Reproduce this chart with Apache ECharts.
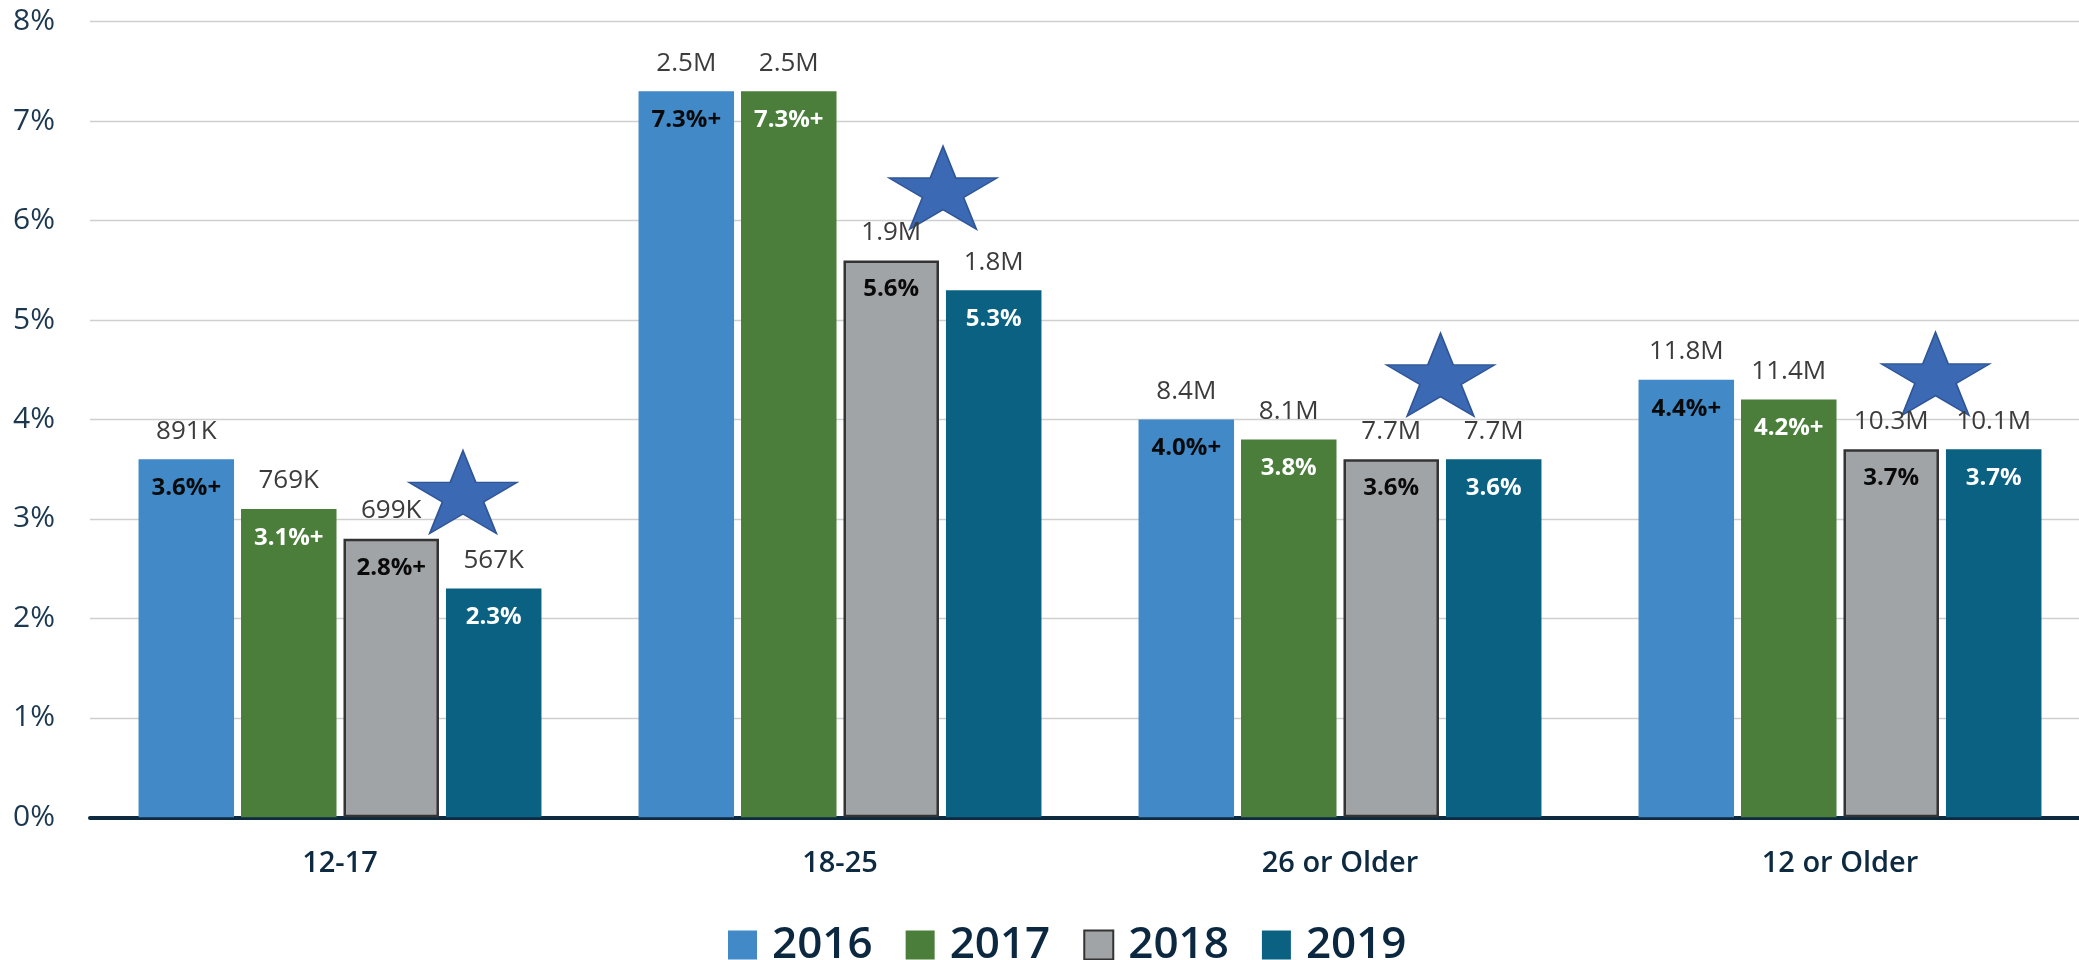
<!DOCTYPE html>
<html>
<head>
<meta charset="utf-8">
<title>Prevalence by age group</title>
<script src="https://cdn.jsdelivr.net/npm/echarts@6/dist/echarts.min.js"></script>
<style>
  html, body { margin: 0; padding: 0; background: #fff; }
  #chart { width: 2079px; height: 960px; }
</style>
</head>
<body>
<div id="chart"></div>
<script>
// categories / years
var categories = ['12-17', '18-25', '26 or Older', '12 or Older'];
var years = ['2016', '2017', '2018', '2019'];

// percent values per year
var pct2016 = [3.6, 7.3, 4.0, 4.4];
var pct2017 = [3.1, 7.3, 3.8, 4.2];
var pct2018 = [2.8, 5.6, 3.6, 3.7];
var pct2019 = [2.3, 5.3, 3.6, 3.7];

// label text inside bars
var pctText2016 = ['3.6%+', '7.3%+', '4.0%+', '4.4%+'];
var pctText2017 = ['3.1%+', '7.3%+', '3.8%', '4.2%+'];
var pctText2018 = ['2.8%+', '5.6%', '3.6%', '3.7%'];
var pctText2019 = ['2.3%', '5.3%', '3.6%', '3.7%'];

// counts shown above bars
var count2016 = ['891K', '2.5M', '8.4M', '11.8M'];
var count2017 = ['769K', '2.5M', '8.1M', '11.4M'];
var count2018 = ['699K', '1.9M', '7.7M', '10.3M'];
var count2019 = ['567K', '1.8M', '7.7M', '10.1M'];

// star markers (x in category units, y in percent)
var starX = [0.746, 1.706, 2.701, 3.691];
var starY = [3.27, 6.33, 4.45, 4.46];

// y axis ticks
var yMin = 0, yMax = 8, yStep = 1;

var colors = ['#4189c7', '#4a7e3a', '#a1a4a7', '#0a6182'];
var insideColors = ['#0a0a0a', '#ffffff', '#0a0a0a', '#ffffff'];
var pctSets = [pct2016, pct2017, pct2018, pct2019];
var pctTextSets = [pctText2016, pctText2017, pctText2018, pctText2019];
var countSets = [count2016, count2017, count2018, count2019];

var FONT = '"Open Sans", "Noto Sans", sans-serif';
var STAR = 'path://M50,0 L61.23,34.55 L97.55,34.55 L68.17,55.9 L79.39,90.45 L50,69.1 L20.61,90.45 L31.83,55.9 L2.45,34.55 L38.77,34.55 Z';

var chart = echarts.init(document.getElementById('chart'));

var series = [];

// main bars with the percent label inside
years.forEach(function (year, i) {
  var itemStyle = { color: colors[i] };
  if (year === '2018') {
    itemStyle.borderColor = '#333333';
    itemStyle.borderWidth = 2.5;
  }
  series.push({
    name: year,
    type: 'bar',
    xAxisIndex: 0,
    yAxisIndex: 0,
    barWidth: 95.5,
    barGap: '7.3%',
    itemStyle: itemStyle,
    label: {
      show: true,
      position: 'insideTop',
      distance: 17,
      fontFamily: FONT,
      fontSize: 24,
      fontWeight: 'bold',
      color: insideColors[i],
      formatter: function (p) { return pctTextSets[i][p.dataIndex]; }
    },
    emphasis: { disabled: true },
    data: pctSets[i]
  });
});

// transparent copies on a twin axis, carrying the count labels above
years.forEach(function (year, i) {
  series.push({
    name: 'count' + year,
    type: 'bar',
    xAxisIndex: 2,
    yAxisIndex: 0,
    barWidth: 95.5,
    barGap: '7.3%',
    silent: true,
    itemStyle: { color: 'rgba(0,0,0,0)' },
    label: {
      show: true,
      position: 'top',
      distance: 15,
      fontFamily: FONT,
      fontSize: 26,
      color: '#3c3c3c',
      formatter: function (p) { return countSets[i][p.dataIndex]; }
    },
    data: pctSets[i]
  });
});

// stars
series.push({
  name: 'star',
  type: 'scatter',
  xAxisIndex: 1,
  yAxisIndex: 0,
  symbol: STAR,
  symbolSize: [108, 83],
  z: 1,
  silent: true,
  itemStyle: { color: '#3b69b3', borderColor: '#2f5597', borderWidth: 1.5, opacity: 1 },
  data: starX.map(function (x, k) { return [x, starY[k]]; })
});

var option = {
  animation: false,
  backgroundColor: '#ffffff',
  grid: {
    left: 90,
    top: 21.7,
    width: 2000,
    height: 795.6,
    containLabel: false,
    outerBoundsMode: 'none'
  },
  legend: {
    data: years,
    left: 723,
    top: 917,
    icon: 'rect',
    itemWidth: 29,
    itemHeight: 29,
    itemGap: 33,
    selectedMode: false,
    textStyle: {
      fontFamily: FONT,
      fontSize: 44,
      fontWeight: 600,
      lineHeight: 46,
      color: '#0b2840',
      padding: [0, 0, 0, 10]
    }
  },
  xAxis: [
    {
      type: 'category',
      data: categories,
      axisLine: { show: true, lineStyle: { color: '#0d2a40', width: 4 } },
      axisTick: { show: false },
      axisLabel: {
        margin: 32,
        fontFamily: FONT,
        fontSize: 29,
        fontWeight: 600,
        color: '#0d2a40'
      },
      splitLine: { show: false }
    },
    {
      type: 'value',
      min: 0,
      max: 4,
      show: false
    },
    {
      type: 'category',
      data: categories,
      show: false
    }
  ],
  yAxis: [
    {
      type: 'value',
      min: yMin,
      max: yMax,
      interval: yStep,
      axisLine: { show: false },
      axisTick: { show: false },
      axisLabel: {
        margin: 35,
        fontFamily: FONT,
        fontSize: 30,
        color: '#1c3850',
        formatter: '{value}%'
      },
      splitLine: { show: true, lineStyle: { color: '#cfcfcf', width: 1.3 } }
    }
  ],
  series: series
};

chart.setOption(option);
</script>
</body>
</html>
